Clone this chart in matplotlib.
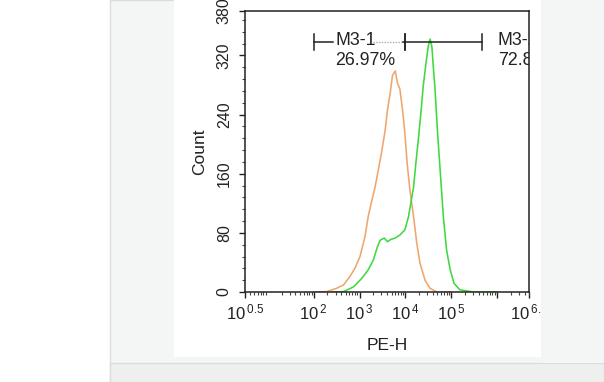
import numpy as np
import matplotlib.pyplot as plt
from matplotlib.patches import Rectangle
from matplotlib.ticker import FixedLocator, NullFormatter

plt.rcParams['font.family'] = ['Liberation Sans', 'DejaVu Sans']
plt.rcParams['mathtext.fontset'] = 'custom'
plt.rcParams['mathtext.rm'] = 'Liberation Sans'

# histogram traces (log10 of PE-H, count)
ctrl_log = [2.0, 2.28, 2.50, 2.65, 2.79, 2.90, 3.01, 3.12, 3.19, 3.27,
            3.34, 3.41, 3.48, 3.56, 3.61, 3.67, 3.72, 3.78, 3.83, 3.88,
            3.94, 3.99, 4.04, 4.10, 4.18, 4.25, 4.32, 4.43, 4.54, 4.69, 5.0]
ctrl_count = [0, 0.5, 5, 9.5, 21, 32, 48, 75, 102, 124,
              142, 165, 188, 219, 246, 269, 293, 299, 282, 275,
              246, 215, 174, 138, 102, 66, 39, 16, 5, 0, 0]

stain_log = [2.4, 2.65, 2.87, 3.05, 3.19, 3.30, 3.39, 3.45, 3.54, 3.61,
             3.68, 3.78, 3.88, 3.99, 4.07, 4.12, 4.18, 4.23, 4.29, 4.34,
             4.39, 4.45, 4.50, 4.54, 4.58, 4.61, 4.65, 4.70, 4.76, 4.83,
             4.90, 4.98, 5.06, 5.19, 5.49, 6.0]
stain_count = [0, 0.5, 7, 18.5, 30, 43, 61, 70, 73, 68,
               71, 73, 77, 84, 102, 120, 142, 174, 210, 242,
               278, 309, 332, 342, 332, 305, 273, 219, 165, 102,
               57, 30, 12, 3, 0, 0]

# marker gates (log10 ends, height, label lines)
gate1 = (2.0, 4.0, 338, ["M3-1", "26.97%"])
gate2 = (4.0, 5.67, 338, ["M3-2", "72.87%"])

xtick_exp = [0.5, 2, 3, 4, 5, 6, 6.7]
xtick_labels = ["0.5", "2", "3", "4", "5", "", "6.7"]
ytick_vals = [0, 80, 160, 240, 320, 380]

W, H = 604, 382
INK = '#222222'


def fx(px):
    return px / W


def fy(py):
    return 1 - py / H


fig = plt.figure(figsize=(6.04, 3.82), dpi=100)
fig.patch.set_facecolor('white')

# page background: grey panel with the white picture inside
fig.patches.append(Rectangle((fx(110), fy(382)), fx(494), 1, transform=fig.transFigure,
                             facecolor='#f4f6f6', edgecolor='#dcdede', lw=1, zorder=-3))
fig.patches.append(Rectangle((fx(110), fy(382)), fx(494), 19 / H, transform=fig.transFigure,
                             facecolor='#eef0f0', edgecolor='#dcdede', lw=1, zorder=-2))
fig.patches.append(Rectangle((fx(174), fy(357)), fx(541 - 174), 357 / H + 0.01,
                             transform=fig.transFigure, facecolor='white',
                             edgecolor='none', zorder=-1))

ax = fig.add_axes([fx(245), fy(292), fx(529 - 245), (292 - 11) / H])
ax.set_facecolor('none')

ax.plot(10 ** np.array(ctrl_log), ctrl_count, color='#eea66e', lw=1.15)
ax.plot(10 ** np.array(stain_log), stain_count, color='#3fd93f', lw=1.15)

ax.set_xscale('log')
ax.set_xlim(10 ** 0.5, 10 ** 6.7)
ax.set_ylim(0, 380)

ax.xaxis.set_major_locator(FixedLocator([10 ** e for e in xtick_exp]))
ax.set_xticklabels([r'$\mathregular{10^{\,%s}}$' % s if s else '' for s in xtick_labels])
minor = [m * 10 ** d for d in range(0, 7) for m in range(2, 10)]
ax.xaxis.set_minor_locator(FixedLocator(minor))
ax.xaxis.set_minor_formatter(NullFormatter())

ax.set_yticks(ytick_vals)
ax.set_yticks(np.arange(0, 381, 16), minor=True)
for lab in ax.get_yticklabels():
    lab.set_rotation(90)
    lab.set_va('center')
    lab.set_fontsize(11.5)

ax.tick_params(axis='both', which='major', direction='out', length=4.5,
               width=1, color=INK, labelcolor=INK)
ax.tick_params(axis='x', which='major', labelsize=12, pad=3)
ax.tick_params(axis='y', which='major', labelsize=11.5, pad=5)
ax.tick_params(axis='both', which='minor', direction='out', length=2.5,
               width=0.8, color='#444444')

for sp in ax.spines.values():
    sp.set_color(INK)
    sp.set_linewidth(1.1)

ax.set_xlabel("PE-H", fontsize=12.5, color=INK, labelpad=11)
ax.set_ylabel("Count", fontsize=12.5, color=INK, labelpad=7)

# gate markers: bar ends, line, labels
for lo, hi, yv, lines in (gate1, gate2):
    for e in (lo, hi):
        ax.plot([10 ** e, 10 ** e], [yv - 11, yv + 11], color=INK, lw=1.1)
ax.plot([10 ** 2.0, 10 ** 2.42], [338, 338], color=INK, lw=1.1)
ax.plot([10 ** 3.3, 10 ** 3.95], [338, 338], color='#b0b0b0', lw=1.0, ls=(0, (1, 1)))
ax.plot([10 ** 3.95, 10 ** 5.67], [338, 338], color=INK, lw=1.1)

ax.text(10 ** 2.48, 334, gate1[3][0], fontsize=12.8, color=INK, va='baseline', ha='left')
ax.text(10 ** 2.46, 307, gate1[3][1], fontsize=12.8, color=INK, va='baseline', ha='left')
ax.text(10 ** 6.02, 334, gate2[3][0], fontsize=12.8, color=INK, va='baseline', ha='left',
        clip_on=True)
ax.text(10 ** 6.02, 307, gate2[3][1], fontsize=12.8, color=INK, va='baseline', ha='left',
        clip_on=True)

# title, mostly cut off at the top edge
fig.text(fx(322), fy(0.5), "Blank control /", fontsize=11.5, color=INK,
         ha='left', va='baseline')
fig.text(fx(423), fy(0.5), "CD38", fontsize=11.5, color='#3fd93f',
         ha='left', va='baseline')

# right edge of the cropped picture
fig.patches.append(Rectangle((fx(541), fy(363)), fx(604 - 541), 363 / H, transform=fig.transFigure,
                             facecolor='#f4f6f6', edgecolor='none', zorder=10))

fig.savefig('out.png', dpi=100)
